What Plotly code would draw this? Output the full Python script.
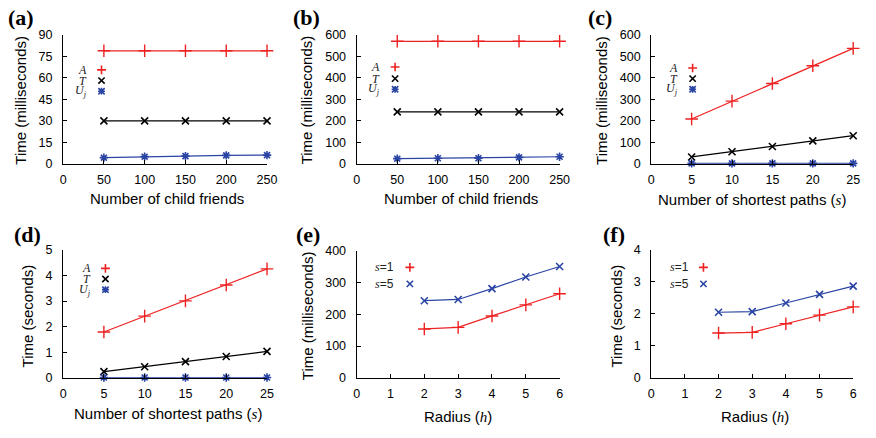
import plotly.graph_objects as go

W, H = 876, 438

# ---------------- data ----------------
friends = [50, 100, 150, 200, 250]
paths = [5, 10, 15, 20, 25]
radius = [2, 3, 4, 5, 6]

a_A = [79, 79, 79, 79, 79]
a_T = [30, 30, 30, 30, 30]
a_U = [4.3, 5.0, 5.4, 5.9, 6.1]

b_A = [571, 571, 571, 571, 571]
b_T = [242, 242, 242, 242, 242]
b_U = [24, 26, 26, 30, 33]

c_A = [209, 292, 374, 457, 538]
c_T = [32, 56, 81, 107, 131]
c_U = [2, 2, 2, 2, 2]

d_A = [1.79, 2.41, 3.01, 3.63, 4.26]
d_T = [0.24, 0.43, 0.63, 0.83, 1.03]
d_U = [0.01, 0.01, 0.01, 0.01, 0.01]

e_s1 = [154, 159, 195, 230, 265]
e_s5 = [243, 247, 281, 318, 351]

f_s1 = [1.40, 1.42, 1.69, 1.96, 2.22]
f_s5 = [2.05, 2.07, 2.34, 2.61, 2.87]

# ---------------- styles ----------------
RED = "#ee2222"
BLACK = "#000000"
BLUE = "#2a44a4"
SANS = "Liberation Sans, Arial, sans-serif"
SERIF = "Liberation Serif, Times New Roman, serif"
IT = "<i style='font-family:Liberation Serif'>%s</i>"

def px(x):
    return x / W

def py(y):
    return 1 - y / H

mk_plus = dict(symbol="cross-thin-open", size=9, line=dict(width=1.4))
mk_x = dict(symbol="x-thin-open", size=7, line=dict(width=1.6))
mk_star = dict(symbol="asterisk-open", size=7, line=dict(width=1.6))

fig = go.Figure()

panels = [
    dict(letter="(a)", lx=18, ly=11, xd=(61, 268), yd=(29, 162), xr=[0, 250], xt=[0, 50, 100, 150, 200, 250],
         yr=[0, 90], yt=[0, 15, 30, 45, 60, 75, 90], ytitle="Time (milliseconds)", ytx=18, yty=96,
         xtitle="Number of child friends", xtx=166, xty=198),
    dict(letter="(b)", lx=308, ly=11, xd=(359, 565), yd=(29, 162), xr=[0, 250], xt=[0, 50, 100, 150, 200, 250],
         yr=[0, 600], yt=[0, 100, 200, 300, 400, 500, 600], ytitle="Time (milliseconds)", ytx=309, yty=96,
         xtitle="Number of child friends", xtx=465, xty=198),
    dict(letter="(c)", lx=606, ly=11, xd=(658, 863), yd=(29, 162), xr=[0, 25], xt=[0, 5, 10, 15, 20, 25],
         yr=[0, 600], yt=[0, 100, 200, 300, 400, 500, 600], ytitle="Time (milliseconds)", ytx=608, yty=96,
         xtitle="Number of shortest paths (" + IT % "s" + ")", xtx=760, xty=199),
    dict(letter="(d)", lx=25, ly=235, xd=(61, 268), yd=(251, 383), xr=[0, 25], xt=[0, 5, 10, 15, 20, 25],
         yr=[0, 5], yt=[0, 1, 2, 3, 4, 5], ytitle="Time (seconds)", ytx=25, yty=319,
         xtitle="Number of shortest paths (" + IT % "s" + ")", xtx=167, xty=420),
    dict(letter="(e)", lx=310, ly=235, xd=(359, 565), yd=(252, 383), xr=[0, 6], xt=[0, 1, 2, 3, 4, 5, 6],
         yr=[0, 400], yt=[0, 100, 200, 300, 400], ytitle="Time (milliseconds)", ytx=309, yty=319,
         xtitle="Radius (" + IT % "h" + ")", xtx=462, xty=423),
    dict(letter="(f)", lx=620, ly=235, xd=(658, 863), yd=(251, 383), xr=[0, 6], xt=[0, 1, 2, 3, 4, 5, 6],
         yr=[0, 4], yt=[0, 1, 2, 3, 4], ytitle="Time (seconds)", ytx=623, yty=319,
         xtitle="Radius (" + IT % "h" + ")", xtx=763, xty=423),
]

series = [
    [(friends, a_A, RED, mk_plus), (friends, a_T, BLACK, mk_x), (friends, a_U, BLUE, mk_star)],
    [(friends, b_A, RED, mk_plus), (friends, b_T, BLACK, mk_x), (friends, b_U, BLUE, mk_star)],
    [(paths, c_A, RED, mk_plus), (paths, c_T, BLACK, mk_x), (paths, c_U, BLUE, mk_star)],
    [(paths, d_A, RED, mk_plus), (paths, d_T, BLACK, mk_x), (paths, d_U, BLUE, mk_star)],
    [(radius, e_s1, RED, mk_plus), (radius, e_s5, BLUE, mk_x)],
    [(radius, f_s1, RED, mk_plus), (radius, f_s5, BLUE, mk_x)],
]

legends = [
    dict(tr=86, mx=100, ys=[65, 76, 87], kind="ATU"),
    dict(tr=384, mx=398, ys=[62, 74, 85], kind="ATU"),
    dict(tr=686, mx=700, ys=[63, 74, 85], kind="ATU"),
    dict(tr=90, mx=104, ys=[270, 281, 292], kind="ATU"),
    dict(tr=398, mx=413, ys=[269, 286], kind="S"),
    dict(tr=697, mx=711, ys=[269, 286], kind="S"),
]


def key_path(kind, cx, cy):
    x, y = px(cx), py(cy)
    parts = []
    if kind in ("plus", "star"):
        r = 4.5 if kind == "plus" else 3.5
        parts.append("M%f,%f L%f,%f" % (x - r / W, y, x + r / W, y))
        parts.append("M%f,%f L%f,%f" % (x, y - r / H, x, y + r / H))
    if kind in ("x", "star"):
        r = 3.2
        parts.append("M%f,%f L%f,%f" % (x - r / W, y - r / H, x + r / W, y + r / H))
        parts.append("M%f,%f L%f,%f" % (x - r / W, y + r / H, x + r / W, y - r / H))
    return " ".join(parts)


annotations = []
shapes = []
layout_axes = {}

for i, p in enumerate(panels):
    n = "" if i == 0 else str(i + 1)
    xa = "xaxis" + n
    ya = "yaxis" + n
    common = dict(showline=True, linecolor="black", linewidth=1.2, ticks="inside", ticklen=4,
                  tickcolor="black", tickwidth=1, showgrid=False, zeroline=False, mirror=False,
                  tickfont=dict(family=SANS, size=12.5, color="black"), fixedrange=True)
    layout_axes[xa] = dict(common, domain=[px(p["xd"][0]), px(p["xd"][1])], range=p["xr"],
                           tickvals=p["xt"], anchor="y" + n, ticklabelstandoff=4)
    layout_axes[ya] = dict(common, domain=[py(p["yd"][1]), py(p["yd"][0])], range=p["yr"],
                           tickvals=p["yt"], anchor="x" + n, ticklabelstandoff=7)
    for (xs, ys, col, mk) in series[i]:
        fig.add_trace(go.Scatter(x=xs, y=ys, mode="lines+markers", xaxis="x" + n, yaxis="y" + n,
                                 line=dict(color=col, width=1.2), marker=dict(mk, color=col),
                                 cliponaxis=False, showlegend=False, hoverinfo="skip"))
    annotations.append(dict(text="<b>" + p["letter"] + "</b>", x=px(p["lx"]), y=py(p["ly"]),
                            xref="paper", yref="paper", showarrow=False,
                            font=dict(family=SERIF, size=22, color="black"),
                            xanchor="center", yanchor="middle"))
    annotations.append(dict(text=p["ytitle"], x=px(p["ytx"]), y=py(p["yty"]), xref="paper", yref="paper",
                            showarrow=False, textangle=-90, font=dict(family=SANS, size=15, color="black"),
                            xanchor="center", yanchor="middle"))
    annotations.append(dict(text=p["xtitle"], x=px(p["xtx"]), y=py(p["xty"]), xref="paper", yref="paper",
                            showarrow=False, font=dict(family=SANS, size=15, color="black"),
                            xanchor="center", yanchor="middle"))
    lg = legends[i]
    if lg["kind"] == "ATU":
        labels = ["<i>A</i>", "<i>T</i>", "<i>U<sub>j</sub></i>"]
        keys = [("plus", RED), ("x", BLACK), ("star", BLUE)]
        lfont = SERIF
    else:
        labels = [IT % "s" + "=1", IT % "s" + "=5"]
        keys = [("plus", RED), ("x", BLUE)]
        lfont = SANS
    for lab, (kind, col), yy in zip(labels, keys, lg["ys"]):
        annotations.append(dict(text=lab, x=px(lg["tr"]), y=py(yy), xref="paper", yref="paper",
                                showarrow=False, font=dict(family=lfont, size=12, color="#222"),
                                xanchor="right", yanchor="middle", borderpad=0))
        shapes.append(dict(type="path", xref="paper", yref="paper", path=key_path(kind, lg["mx"], yy),
                           line=dict(color=col, width=1.6)))

fig.update_layout(width=W, height=H, margin=dict(l=0, r=0, t=0, b=0),
                  paper_bgcolor="white", plot_bgcolor="white", showlegend=False,
                  annotations=annotations, shapes=shapes, **layout_axes)

fig.write_html("out.html", config=dict(displayModeBar=False),
               post_script="document.body.style.margin='0';document.body.style.padding='0';")
